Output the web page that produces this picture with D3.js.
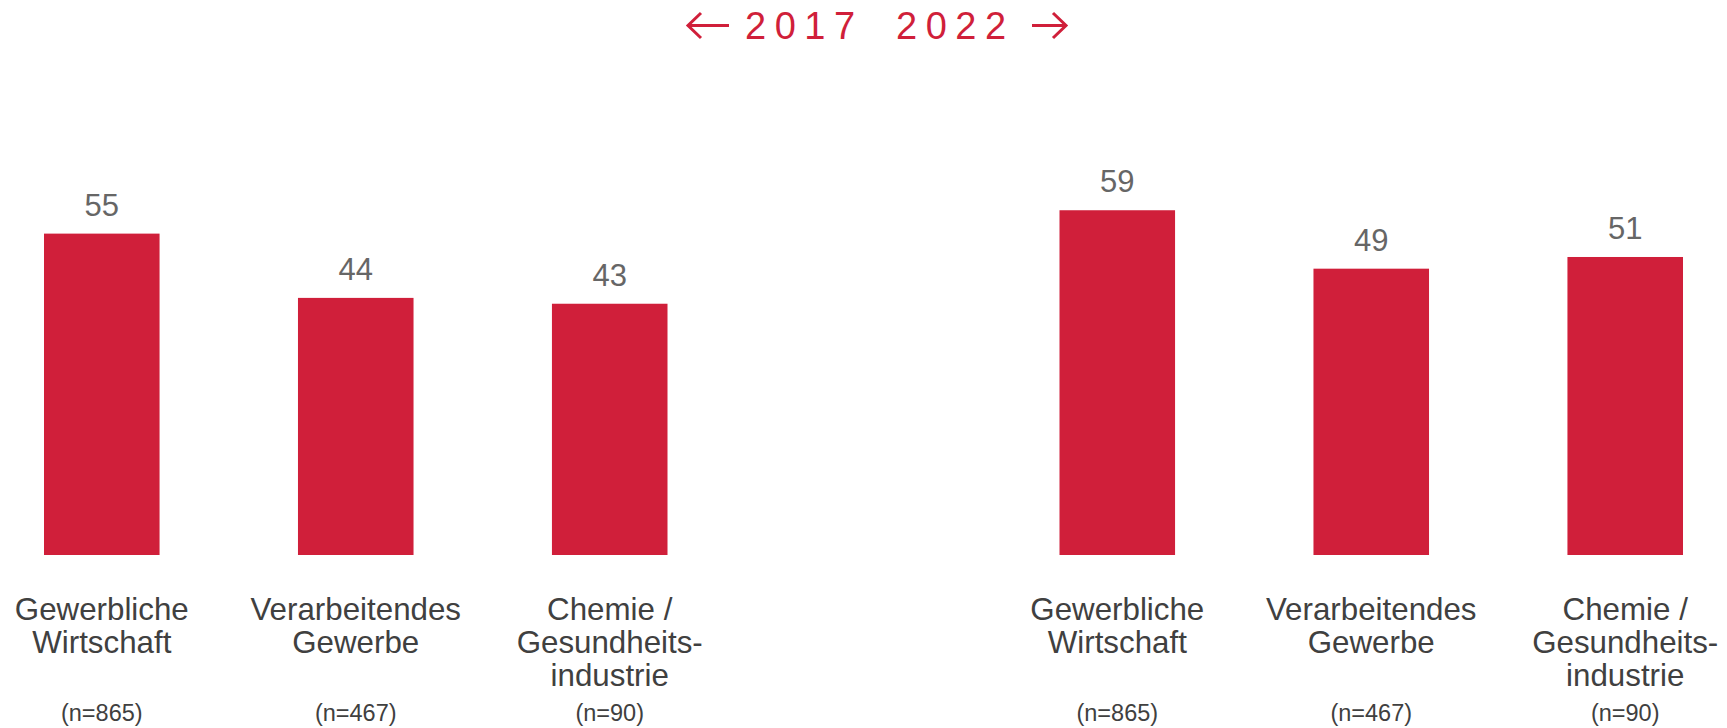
<!DOCTYPE html>
<html>
<head>
<meta charset="utf-8">
<script src="https://cdn.jsdelivr.net/npm/d3@7"></script>
<style>
  html, body { margin: 0; padding: 0; background: #ffffff; }
  svg { display: block; font-family: "Liberation Sans", Arial, Helvetica, sans-serif; }
</style>
</head>
<body>
<svg id="chart" width="1727" height="728"></svg>
<script>
// Branches, split into label lines
const categoryLines = [
  ["Gewerbliche", "Wirtschaft"],
  ["Verarbeitendes", "Gewerbe"],
  ["Chemie /", "Gesundheits-", "industrie"]
];
const categories = categoryLines.map(l => l.join(" "));
const sampleSizes = ["(n=865)", "(n=467)", "(n=90)"];
const years = ["2017", "2022"];
const values2017 = [55, 44, 43];
const values2022 = [59, 49, 51];

const RED = "#D01F3A";
const svg = d3.select("#chart");

const baseline = 555;
const y = d3.scaleLinear().domain([0, 60]).range([baseline, baseline - 350.6]);

const panels = [
  { year: years[0], values: values2017, x0: 44, x1: 667.5 },
  { year: years[1], values: values2022, x0: 1059.5, x1: 1683 }
];

panels.forEach(p => {
  const x = d3.scaleBand()
    .domain(categories)
    .range([p.x0, p.x1])
    .paddingInner(0.545)
    .paddingOuter(0);

  const g = svg.append("g");
  const rows = categories.map((c, i) => ({ c, v: p.values[i], lines: categoryLines[i], n: sampleSizes[i] }));

  g.selectAll("rect.bar").data(rows).join("rect")
    .attr("class", "bar")
    .attr("x", d => x(d.c))
    .attr("y", d => y(d.v))
    .attr("width", x.bandwidth())
    .attr("height", d => y(0) - y(d.v))
    .attr("fill", RED);

  g.selectAll("text.value").data(rows).join("text")
    .attr("class", "value")
    .attr("x", d => x(d.c) + x.bandwidth() / 2)
    .attr("y", d => y(d.v) - 18)
    .attr("text-anchor", "middle")
    .attr("font-size", 31)
    .attr("fill", "#666666")
    .text(d => d.v);

  const labels = g.selectAll("text.cat").data(rows).join("text")
    .attr("class", "cat")
    .attr("text-anchor", "middle")
    .attr("font-size", 31.3)
    .attr("fill", "#404040");
  labels.selectAll("tspan").data(d => d.lines.map(t => ({ t, cx: x(d.c) + x.bandwidth() / 2 })))
    .join("tspan")
    .attr("x", d => d.cx)
    .attr("y", (d, i) => 620 + i * 33)
    .text(d => d.t);

  g.selectAll("text.n").data(rows).join("text")
    .attr("class", "n")
    .attr("x", d => x(d.c) + x.bandwidth() / 2)
    .attr("y", 721)
    .attr("text-anchor", "middle")
    .attr("font-size", 23.5)
    .attr("fill", "#404040")
    .text(d => d.n);
});

// Header: year labels with arrows pointing outwards
const header = svg.append("g").attr("fill", RED);
header.append("text")
  .attr("x", 745).attr("y", 38.5)
  .attr("text-anchor", "start")
  .attr("font-size", 38)
  .attr("letter-spacing", 8.5)
  .text(years[0]);
header.append("text")
  .attr("x", 896).attr("y", 38.5)
  .attr("text-anchor", "start")
  .attr("font-size", 38)
  .attr("letter-spacing", 8.5)
  .text(years[1]);

const arrowY = 25.5;
const arrows = [
  { tip: 688, tail: 729, dir: 1 },
  { tip: 1066, tail: 1032, dir: -1 }
];
arrows.forEach(a => {
  const head = 13;
  svg.append("path")
    .attr("d", `M${a.tail},${arrowY}H${a.tip}M${a.tip + a.dir * head},${arrowY - 12.5}L${a.tip},${arrowY}L${a.tip + a.dir * head},${arrowY + 12.5}`)
    .attr("fill", "none")
    .attr("stroke", RED)
    .attr("stroke-width", 3);
});
</script>
</body>
</html>
